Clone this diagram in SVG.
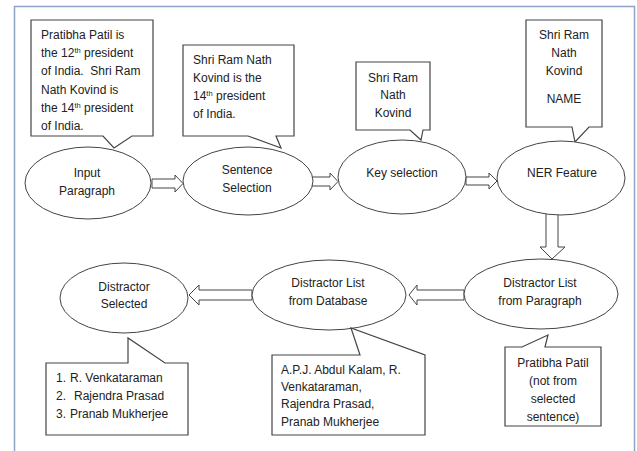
<svg xmlns="http://www.w3.org/2000/svg" width="637" height="451" viewBox="0 0 637 451">
<style>
.frame{fill:none;stroke:#8fa3c4;stroke-width:1.5}
.node{fill:#fff;stroke:#444;stroke-width:1}
.call{fill:#fff;stroke:#444;stroke-width:1.2}
.arr{fill:#fff;stroke:#444;stroke-width:1}
text{font-family:"Liberation Sans",Arial,sans-serif;font-size:12px;fill:#222}
.c{text-anchor:middle}
.sup{font-size:7.5px}
</style>
<rect width="637" height="451" fill="#fff"/>
<rect class="frame" x="14.5" y="6.5" width="620" height="470"/>
<g id="connectors">
<polygon class="arr" points="152,179 175,179 175,175 183,183.5 175,192 175,188 152,188"/>
<polygon class="arr" points="312,177 330,177 330,173 338,181.5 330,190 330,186 312,186"/>
<polygon class="arr" points="466,177 489,177 489,173 497,181 489,189 489,185 466,185"/>
<polygon class="arr" points="546,213 558,213 558,247 565,247 552,259 540,247 546,247"/>
<polygon class="arr" points="464,290 417,290 417,285 409,295 417,305 417,300 464,300"/>
<polygon class="arr" points="252,290 199,290 199,285 189,295 199,305 199,300 252,300"/>
</g>
<g id="callout-paragraph">
<path class="call" d="M31,20 H153 V136 H132 L114,148 L103,136 H31 Z"/>
<text x="41" y="39">Pratibha Patil is</text>
<text x="41" y="57.2">the 12<tspan class="sup" dy="-4">th</tspan><tspan dy="4"> president</tspan></text>
<text x="41" y="75.4" xml:space="preserve">of India.  Shri Ram</text>
<text x="41" y="93.6">Nath Kovind is</text>
<text x="41" y="111.8">the 14<tspan class="sup" dy="-4">th</tspan><tspan dy="4"> president</tspan></text>
<text x="41" y="130">of India.</text>
</g>
<g id="callout-sentence">
<path class="call" d="M183,45 H294 V136 H276 L281,148 L248,136 H183 Z"/>
<text x="193" y="64">Shri Ram Nath</text>
<text x="193" y="82">Kovind is the</text>
<text x="193" y="100">14<tspan class="sup" dy="-4">th</tspan><tspan dy="4"> president</tspan></text>
<text x="193" y="118">of India.</text>
</g>
<g id="callout-key">
<path class="call" d="M356,62 H430 V130 H423 L421,140 L410,130 H356 Z"/>
<text class="c" x="393" y="82">Shri Ram</text>
<text class="c" x="393" y="99">Nath</text>
<text class="c" x="393" y="117">Kovind</text>
</g>
<g id="callout-ner">
<path class="call" d="M526,20 H602 V127 H589 L575,142 L572,127 H526 Z"/>
<text class="c" x="564" y="39">Shri Ram</text>
<text class="c" x="564" y="57">Nath</text>
<text class="c" x="564" y="75">Kovind</text>
<text class="c" x="564" y="103">NAME</text>
</g>
<g id="input-paragraph">
<ellipse class="node" cx="88" cy="183" rx="63" ry="36"/>
<text class="c" x="87" y="177">Input</text>
<text class="c" x="87" y="195">Paragraph</text>
</g>
<g id="sentence-selection">
<ellipse class="node" cx="248" cy="181" rx="65" ry="34"/>
<text class="c" x="247" y="174">Sentence</text>
<text class="c" x="247" y="192">Selection</text>
</g>
<g id="key-selection">
<ellipse class="node" cx="402" cy="177" rx="64" ry="37"/>
<text class="c" x="402" y="177">Key selection</text>
</g>
<g id="ner-feature">
<ellipse class="node" cx="561" cy="178" rx="64" ry="37"/>
<text class="c" x="562" y="177">NER Feature</text>
</g>
<g id="distractor-paragraph">
<ellipse class="node" cx="541" cy="294" rx="77" ry="35"/>
<text class="c" x="540" y="287">Distractor List</text>
<text class="c" x="540" y="305">from Paragraph</text>
</g>
<g id="distractor-database">
<ellipse class="node" cx="329" cy="295" rx="77" ry="35"/>
<text class="c" x="328" y="287">Distractor List</text>
<text class="c" x="328" y="305">from Database</text>
</g>
<g id="distractor-selected">
<ellipse class="node" cx="124" cy="298" rx="64" ry="35"/>
<text class="c" x="124" y="291">Distractor</text>
<text class="c" x="124" y="308">Selected</text>
</g>
<g id="callout-selected">
<path class="call" d="M46,363 H128 V338 L165,363 H188 V435 H46 Z"/>
<text x="56" y="382">1.<tspan x="70">R. Venkataraman</tspan></text>
<text x="56" y="400">2.<tspan x="74">Rajendra Prasad</tspan></text>
<text x="56" y="418">3.<tspan x="70">Pranab Mukherjee</tspan></text>
</g>
<g id="callout-database">
<path class="call" d="M272,355 H360 L351,328 L425,355 V435 H272 Z"/>
<text x="281" y="374">A.P.J. Abdul Kalam, R.</text>
<text x="281" y="391">Venkataraman,</text>
<text x="281" y="408">Rajendra Prasad,</text>
<text x="281" y="426">Pranab Mukherjee</text>
</g>
<g id="callout-paragraph-list">
<path class="call" d="M505,347 H522 L548,335 L545,347 H601 V426 H505 Z"/>
<text class="c" x="553" y="367">Pratibha Patil</text>
<text class="c" x="553" y="385">(not from</text>
<text class="c" x="553" y="403">selected</text>
<text class="c" x="553" y="421">sentence)</text>
</g>
</svg>
